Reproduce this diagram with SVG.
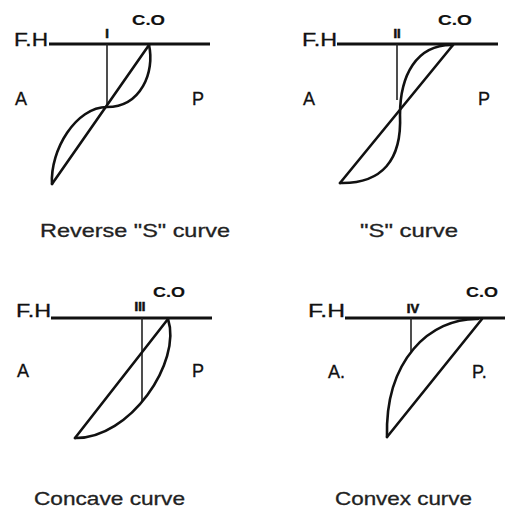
<svg xmlns="http://www.w3.org/2000/svg" width="505" height="510" viewBox="0 0 505 510">
<style>
.bg{fill:#fff}
.fh{stroke:#111;stroke-width:3;fill:none}
.cv{stroke:#111;stroke-width:2.6;fill:none;stroke-linecap:round;stroke-linejoin:round}
.vl{stroke:#222;stroke-width:1.6;fill:none}
text{font-family:"Liberation Sans",Arial,sans-serif;fill:#111;stroke:#111;stroke-width:0.3}
.lb{font-size:18px}
.co{font-size:15px;font-weight:bold;stroke-width:0.15}
.rn{font-size:13px;font-weight:bold;text-anchor:middle;stroke-width:0.6}
.cap{font-size:18.5px;fill:#222;stroke:#222}
</style>
<rect class="bg" x="0" y="0" width="505" height="510"/>
<g id="panel-reverse-s">
  <line class="fh" x1="49" y1="44" x2="210" y2="44"/>
  <line class="vl" x1="107" y1="44" x2="107" y2="107"/>
  <path class="cv" d="M149,45 L52,184"/>
  <path class="cv" d="M149,45 C155,72 141,107 107,107 C76,107 50,150 52,184"/>
  <text class="lb" x="14" y="46" textLength="34" lengthAdjust="spacingAndGlyphs">F.H</text>
  <text class="co" x="132" y="25" textLength="33" lengthAdjust="spacingAndGlyphs">C.O</text>
  <text class="rn" x="107" y="38">I</text>
  <text class="lb" x="15" y="105">A</text>
  <text class="lb" x="192" y="105">P</text>
  <text class="cap" x="40" y="237" textLength="190" lengthAdjust="spacingAndGlyphs">Reverse "S" curve</text>
</g>
<g id="panel-s">
  <line class="fh" x1="337" y1="44" x2="498" y2="44"/>
  <line class="vl" x1="397" y1="44" x2="397" y2="100"/>
  <path class="cv" d="M453,45 L340,183"/>
  <path class="cv" d="M453,45 C416,44 400,76 400,115 C402,160 382,184 340,183"/>
  <text class="lb" x="302" y="46" textLength="35" lengthAdjust="spacingAndGlyphs">F.H</text>
  <text class="co" x="438" y="25" textLength="34" lengthAdjust="spacingAndGlyphs">C.O</text>
  <text class="rn" x="397" y="38">II</text>
  <text class="lb" x="303" y="105">A</text>
  <text class="lb" x="478" y="105">P</text>
  <text class="cap" x="360" y="237" textLength="98" lengthAdjust="spacingAndGlyphs">"S" curve</text>
</g>
<g id="panel-concave">
  <line class="fh" x1="51" y1="318" x2="212" y2="318"/>
  <line class="vl" x1="142" y1="318" x2="142" y2="401"/>
  <path class="cv" d="M168,319 L75,438"/>
  <path class="cv" d="M168,319 C182,362 130,439 75,438"/>
  <text class="lb" x="16" y="317" textLength="35" lengthAdjust="spacingAndGlyphs">F.H</text>
  <text class="co" x="153" y="297" textLength="32" lengthAdjust="spacingAndGlyphs">C.O</text>
  <text class="rn" x="140" y="311">III</text>
  <text class="lb" x="17" y="377">A</text>
  <text class="lb" x="192" y="377">P</text>
  <text class="cap" x="34" y="505" textLength="151" lengthAdjust="spacingAndGlyphs">Concave curve</text>
</g>
<g id="panel-convex">
  <line class="fh" x1="345" y1="318" x2="505" y2="318"/>
  <line class="vl" x1="411" y1="318" x2="411" y2="352"/>
  <path class="cv" d="M482,319 L387,437"/>
  <path class="cv" d="M478,319 C430,318 385,360 387,437"/>
  <text class="lb" x="308" y="317" textLength="37" lengthAdjust="spacingAndGlyphs">F.H</text>
  <text class="co" x="466" y="297" textLength="32" lengthAdjust="spacingAndGlyphs">C.O</text>
  <text class="rn" x="413" y="313">IV</text>
  <text class="lb" x="328" y="378">A.</text>
  <text class="lb" x="472" y="378">P.</text>
  <text class="cap" x="335" y="505" textLength="137" lengthAdjust="spacingAndGlyphs">Convex curve</text>
</g>
</svg>
